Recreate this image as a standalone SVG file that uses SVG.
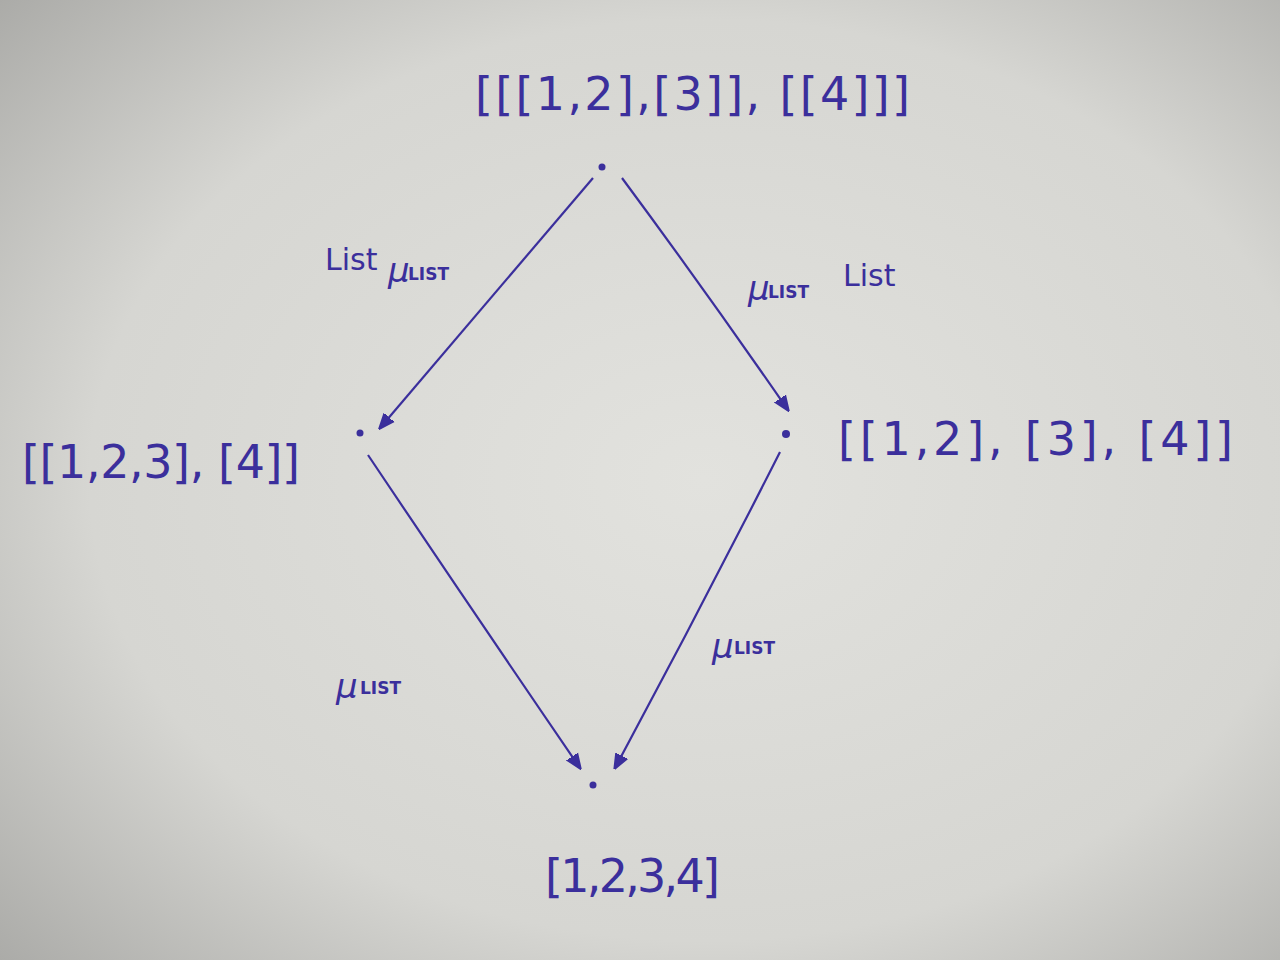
<svg xmlns="http://www.w3.org/2000/svg" width="1280" height="960" viewBox="0 0 1280 960">
<defs>
<radialGradient id="bg" cx="0.55" cy="0.5" r="0.8">
<stop offset="0" stop-color="#e2e2de"/>
<stop offset="0.6" stop-color="#d6d6d2"/>
<stop offset="1" stop-color="#a2a29f"/>
</radialGradient>
<marker id="arr" viewBox="0 0 10 10" refX="9" refY="5" markerWidth="7" markerHeight="7" markerUnits="strokeWidth" orient="auto">
<path d="M0,1 L10,5 L0,9 Z" fill="#3b2f9c" stroke="#3b2f9c" stroke-width="1.2"/>
</marker>
<style>
.ink{fill:#3b2f9c;font-family:"DejaVu Sans","Liberation Sans",sans-serif}
.node{font-size:46px}
.lbl{font-size:30px}
.mu{font-size:34px;font-style:italic}
.sub{font-size:17px;font-weight:bold}
.edge{fill:none;stroke:#3b2f9c;stroke-width:2.2;marker-end:url(#arr)}
.dot{fill:#3b2f9c}
</style>
</defs>
<rect width="1280" height="960" fill="url(#bg)"/>
<g id="connectors">
<path class="edge" d="M593,178 Q485,305 380,428"/>
<path class="edge" d="M622,178 Q705,290 788,410"/>
<path class="edge" d="M368,455 Q472,610 580,768"/>
<path class="edge" d="M780,452 Q700,610 615,768"/>
<g id="label-top-left" class="ink">
<text x="325" y="270" class="lbl">List</text>
<text x="388" y="282" class="mu">μ</text>
<text x="408" y="280" class="sub">LIST</text>
</g>
<g id="label-top-right" class="ink">
<text x="748" y="300" class="mu">μ</text>
<text x="768" y="298" class="sub">LIST</text>
<text x="843" y="286" class="lbl">List</text>
</g>
<g id="label-bottom-left" class="ink">
<text x="336" y="698" class="mu" font-size="38">μ</text>
<text x="360" y="694" class="sub">LIST</text>
</g>
<g id="label-bottom-right" class="ink">
<text x="712" y="658" class="mu">μ</text>
<text x="734" y="654" class="sub">LIST</text>
</g>
</g>
<g id="node-top">
<circle class="dot" cx="602" cy="167" r="3.5"/>
<text class="ink node" x="475" y="110" textLength="435" lengthAdjust="spacing">[[[1,2],[3]], [[4]]]</text>
</g>
<g id="node-left">
<circle class="dot" cx="360" cy="433" r="3.5"/>
<text class="ink node" x="22" y="478" font-size="54" textLength="278" lengthAdjust="spacing">[[1,2,3], [4]]</text>
</g>
<g id="node-right">
<circle class="dot" cx="786" cy="434" r="4"/>
<text class="ink node" x="838" y="455" font-size="50" textLength="395" lengthAdjust="spacing">[[1,2], [3], [4]]</text>
</g>
<g id="node-bottom">
<circle class="dot" cx="593" cy="785" r="3.5"/>
<text class="ink node" x="545" y="892" font-size="52" textLength="175" lengthAdjust="spacing">[1,2,3,4]</text>
</g>
</svg>
